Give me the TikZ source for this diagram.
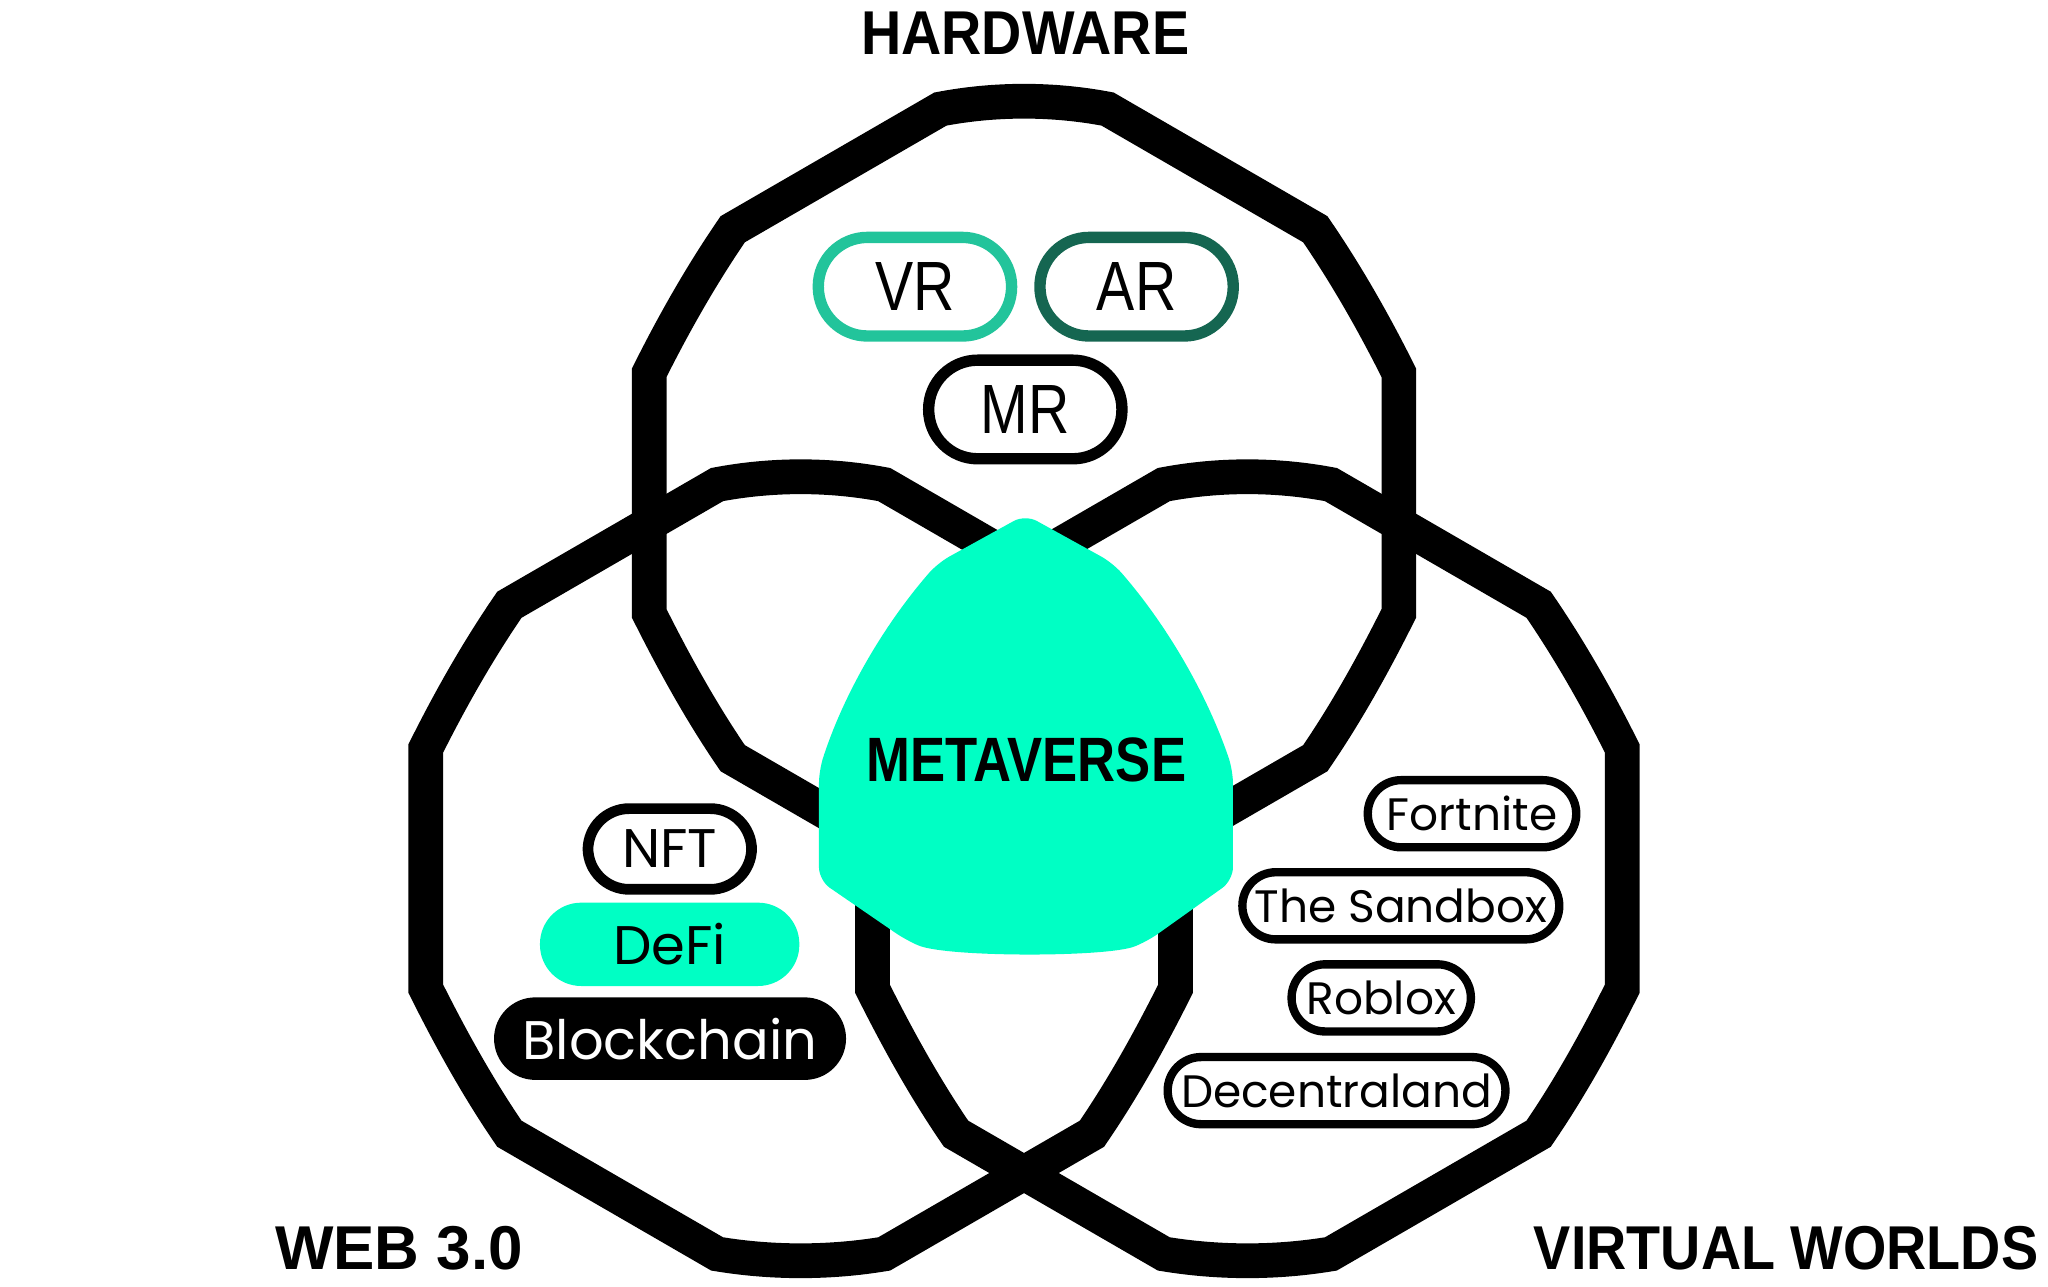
\documentclass[tikz,border=0pt]{standalone}
\usepackage{fontspec}
\usepackage{tikz}
\setmainfont{Liberation Sans}
\newfontfamily\headfont[FakeStretch=0.9]{Liberation Sans}
\newfontfamily\metafont[FakeStretch=0.84]{Liberation Sans}
\newfontfamily\condfont[FakeStretch=0.82]{Liberation Sans}
\newfontfamily\tagfont{Poppins}
\definecolor{mint}{RGB}{0,255,196}
\definecolor{vrgreen}{RGB}{34,196,155}
\definecolor{argreen}{RGB}{21,102,81}

\tikzset{
  ring/.style={line width=13.3pt},
  blob/.pic={
    \draw[ring] (-64,-294) .. controls (-22,-302) and (22,-302) .. (64,-294)
      -- (223,-202) .. controls (247,-167) and (268,-130) .. (287,-92)
      -- (287,92) .. controls (268,130) and (247,168) .. (223,203)
      -- (64,295) .. controls (22,302) and (-22,302) .. (-64,295)
      -- (-223,203) .. controls (-247,168) and (-268,130) .. (-287,92)
      -- (-287,-92) .. controls (-268,-130) and (-247,-167) .. (-223,-202)
      -- cycle;
  },
  head/.style={anchor=base, font=\headfont\bfseries\fontsize{23.7}{28}\selectfont},
  xr/.style={draw=#1, line width=4.35pt, rounded corners=18.8pt,
    minimum width=74pt, minimum height=37.75pt, inner sep=0pt,
    font=\condfont\fontsize{26.7}{30}\selectfont},
  webtag/.style={minimum width=#1, minimum height=31.6pt, rounded corners=15.8pt,
    inner sep=0pt, font=\tagfont\fontsize{20.8}{24}\selectfont},
  gametag/.style={draw, line width=3.2pt, minimum width=#1, minimum height=25.7pt,
    rounded corners=12.8pt, inner sep=0pt, font=\tagfont\fontsize{17.4}{20}\selectfont},
}

\begin{document}
\begin{tikzpicture}[x=0.5pt,y=-0.5pt]
  \useasboundingbox (0,0) rectangle (1568,985);

  \pic (hwring) at (784,377.5) {blob};
  \pic (webring) at (613,665) {blob};
  \pic (vwring) at (955,665) {blob};

  \fill[mint, rounded corners=5pt] (944,630) -- (944,674) -- (878,721)
    .. controls (847,733) and (725,733) .. (694,720) -- (627,674) -- (627,590)
    .. controls (646,531) and (677,478) .. (718,431) -- (785,394) -- (852,431)
    .. controls (893,478) and (924,531) .. (944,590) -- cycle;

  \node[head] (hw) at (785,42) {HARDWARE};
  \node[head, font=\bfseries\fontsize{23.7}{28}\selectfont] (web) at (305.5,972) {WEB 3.0};
  \node[head] (vw) at (1367.5,972) {VIRTUAL WORLDS};
  \node[head, font=\metafont\bfseries\fontsize{24}{28}\selectfont] (meta) at (785.7,598.4) {METAVERSE};

  \node[xr=vrgreen] (vr) at (700.5,219.5) {VR};
  \node[xr=argreen] (ar) at (870.2,219.5) {AR};
  \node[xr=black] (mr) at (785,313.5) {MR};

  \node[webtag=62.65pt, draw, line width=4.1pt, minimum height=30.9pt] (nft) at (512.8,650) {NFT};
  \node[webtag=99.3pt, fill=mint, minimum height=31.9pt] (defi) at (512.7,723) {DeFi};
  \node[webtag=134.75pt, fill=black, text=white] (chain) at (513,795.2) {Blockchain};

  \node[gametag=79.8pt] (fort) at (1127,623) {Fortnite};
  \node[gametag=121.3pt] (sand) at (1072.5,693.5) {The Sandbox};
  \node[gametag=68.65pt] (rob) at (1057.5,764) {Roblox};
  \node[gametag=129.3pt] (dec) at (1023.3,835) {Decentraland};
\end{tikzpicture}
\end{document}
